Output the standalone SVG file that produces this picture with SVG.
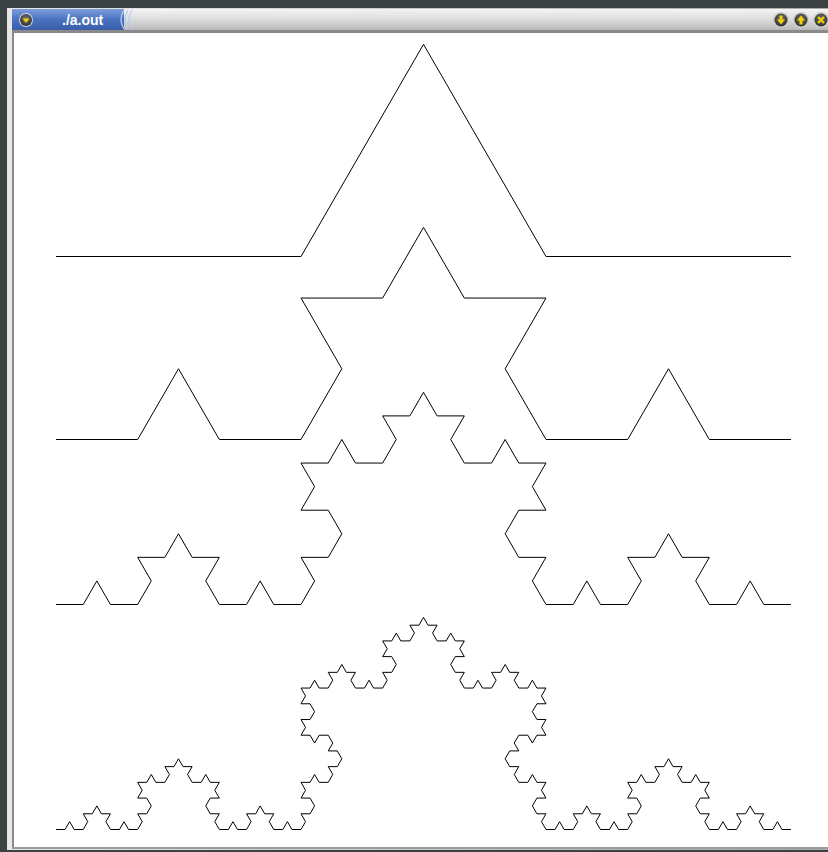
<svg xmlns="http://www.w3.org/2000/svg" width="828" height="852" viewBox="0 0 828 852">
<defs>
<linearGradient id="blue" x1="0" y1="0" x2="0" y2="1">
<stop offset="0" stop-color="#7e9fdc"/>
<stop offset="0.5" stop-color="#4a72c0"/>
<stop offset="1" stop-color="#3a5ea8"/>
</linearGradient>
<linearGradient id="gray" x1="0" y1="0" x2="0" y2="1">
<stop offset="0" stop-color="#f4f4f4"/>
<stop offset="0.5" stop-color="#dcdcdc"/>
<stop offset="1" stop-color="#b8b8b8"/>
</linearGradient>
<linearGradient id="side" x1="0" y1="0" x2="1" y2="0">
<stop offset="0" stop-color="#e8e8e8"/>
<stop offset="1" stop-color="#a8a8a8"/>
</linearGradient>
<radialGradient id="btn" cx="0.5" cy="0.4" r="0.6">
<stop offset="0" stop-color="#777"/>
<stop offset="1" stop-color="#2e2e2a"/>
</radialGradient>
</defs>
<style>
.koch{fill:none;stroke:#000;stroke-width:1;stroke-linejoin:miter}
.title{font-family:"Liberation Sans",Arial,sans-serif;font-weight:bold;font-size:14px;fill:#fff}
.arc{fill:none;stroke:#b8cdf0;stroke-width:1.2}
.sym{fill:#f0d000}
</style>
<g id="frame">
<rect x="0" y="0" width="828" height="852" fill="#3c4242"/>
<rect x="7" y="8" width="821" height="842" fill="url(#side)"/>
<rect x="12" y="30" width="816" height="818" fill="#8a8a8a"/>
<rect x="14" y="33" width="814" height="814" fill="#fff"/>
<rect x="12" y="847" width="816" height="2" fill="#9a9a9a"/>
</g>
<g id="titlebar">
<rect x="12" y="9" width="816" height="21" fill="url(#gray)"/>
<rect x="12" y="9" width="112" height="21" fill="url(#blue)"/>
<path class="arc" d="M124 10 Q118 19.5 124 29"/>
<path class="arc" d="M128 10 Q122 19.5 128 29"/>
<path class="arc" d="M132 10 Q126 19.5 132 29"/>
<circle cx="26" cy="20" r="7" fill="#c8d4ec"/>
<circle cx="26" cy="20" r="6" fill="url(#btn)"/>
<path class="sym" d="M22.5 18.5 L29.5 18.5 L26 23 Z"/>
<text class="title" x="62" y="25">./a.out</text>
</g>
<g id="buttons">
<circle cx="781" cy="20" r="8" fill="#cfcfcf"/>
<circle cx="781" cy="20" r="6.5" fill="url(#btn)"/>
<path class="sym" d="M779.5 15.5 H782.5 V19.5 H785 L781 24.5 L777 19.5 H779.5 Z"/>
<circle cx="801" cy="20" r="8" fill="#cfcfcf"/>
<circle cx="801" cy="20" r="6.5" fill="url(#btn)"/>
<path class="sym" d="M799.5 24.5 H802.5 V20.5 H805 L801 15.5 L797 20.5 H799.5 Z"/>
<circle cx="821" cy="20" r="8" fill="#cfcfcf"/>
<circle cx="821" cy="20" r="6.5" fill="url(#btn)"/>
<path d="M818 17 L824 23 M824 17 L818 23" stroke="#f0d000" stroke-width="2.2" fill="none"/>
</g>
<g id="curves">
<path id="koch1" class="koch" d="M56 256.5 L301 256.5 L423.5 44.3 L546 256.5 L791 256.5"/>
<path id="koch2" class="koch" d="M56 439.5 l81.667 0 40.833 -70.725 40.833 70.725 81.667 0 40.833 -70.725 -40.833 -70.725 81.667 0 40.833 -70.725 40.833 70.725 81.667 0 -40.833 70.725 40.833 70.725 81.667 0 40.833 -70.725 40.833 70.725 81.667 0"/>
<path id="koch3" class="koch" d="M56 604.5 l27.222 0 13.611 -23.575 13.611 23.575 27.222 0 13.611 -23.575 -13.611 -23.575 27.222 0 13.611 -23.575 13.611 23.575 27.222 0 -13.611 23.575 13.611 23.575 27.222 0 13.611 -23.575 13.611 23.575 27.222 0
13.611 -23.575 -13.611 -23.575 27.222 0 13.611 -23.575 -13.611 -23.575 -27.222 0 13.611 -23.575 -13.611 -23.575 27.222 0 13.611 -23.575 13.611 23.575 27.222 0 13.611 -23.575 -13.611 -23.575 27.222 0 13.611 -23.575
13.611 23.575 27.222 0 -13.611 23.575 13.611 23.575 27.222 0 13.611 -23.575 13.611 23.575 27.222 0 -13.611 23.575 13.611 23.575 -27.222 0 -13.611 23.575 13.611 23.575 27.222 0 -13.611 23.575 13.611 23.575
27.222 0 13.611 -23.575 13.611 23.575 27.222 0 13.611 -23.575 -13.611 -23.575 27.222 0 13.611 -23.575 13.611 23.575 27.222 0 -13.611 23.575 13.611 23.575 27.222 0 13.611 -23.575 13.611 23.575 27.222 0"/>
<path id="koch4" class="koch" d="M56 829.5 l9.074 0 4.537 -7.858 4.537 7.858 9.074 0 4.537 -7.858 -4.537 -7.858 9.074 0 4.537 -7.858 4.537 7.858 9.074 0 -4.537 7.858 4.537 7.858 9.074 0 4.537 -7.858 4.537 7.858 9.074 0
4.537 -7.858 -4.537 -7.858 9.074 0 4.537 -7.858 -4.537 -7.858 -9.074 0 4.537 -7.858 -4.537 -7.858 9.074 0 4.537 -7.858 4.537 7.858 9.074 0 4.537 -7.858 -4.537 -7.858 9.074 0 4.537 -7.858
4.537 7.858 9.074 0 -4.537 7.858 4.537 7.858 9.074 0 4.537 -7.858 4.537 7.858 9.074 0 -4.537 7.858 4.537 7.858 -9.074 0 -4.537 7.858 4.537 7.858 9.074 0 -4.537 7.858 4.537 7.858
9.074 0 4.537 -7.858 4.537 7.858 9.074 0 4.537 -7.858 -4.537 -7.858 9.074 0 4.537 -7.858 4.537 7.858 9.074 0 -4.537 7.858 4.537 7.858 9.074 0 4.537 -7.858 4.537 7.858 9.074 0
4.537 -7.858 -4.537 -7.858 9.074 0 4.537 -7.858 -4.537 -7.858 -9.074 0 4.537 -7.858 -4.537 -7.858 9.074 0 4.537 -7.858 4.537 7.858 9.074 0 4.537 -7.858 -4.537 -7.858 9.074 0 4.537 -7.858
-4.537 -7.858 -9.074 0 4.537 -7.858 -4.537 -7.858 -9.074 0 -4.537 7.858 -4.537 -7.858 -9.074 0 4.537 -7.858 -4.537 -7.858 9.074 0 4.537 -7.858 -4.537 -7.858 -9.074 0 4.537 -7.858 -4.537 -7.858
9.074 0 4.537 -7.858 4.537 7.858 9.074 0 4.537 -7.858 -4.537 -7.858 9.074 0 4.537 -7.858 4.537 7.858 9.074 0 -4.537 7.858 4.537 7.858 9.074 0 4.537 -7.858 4.537 7.858 9.074 0
4.537 -7.858 -4.537 -7.858 9.074 0 4.537 -7.858 -4.537 -7.858 -9.074 0 4.537 -7.858 -4.537 -7.858 9.074 0 4.537 -7.858 4.537 7.858 9.074 0 4.537 -7.858 -4.537 -7.858 9.074 0 4.537 -7.858
4.537 7.858 9.074 0 -4.537 7.858 4.537 7.858 9.074 0 4.537 -7.858 4.537 7.858 9.074 0 -4.537 7.858 4.537 7.858 -9.074 0 -4.537 7.858 4.537 7.858 9.074 0 -4.537 7.858 4.537 7.858
9.074 0 4.537 -7.858 4.537 7.858 9.074 0 4.537 -7.858 -4.537 -7.858 9.074 0 4.537 -7.858 4.537 7.858 9.074 0 -4.537 7.858 4.537 7.858 9.074 0 4.537 -7.858 4.537 7.858 9.074 0
-4.537 7.858 4.537 7.858 -9.074 0 -4.537 7.858 4.537 7.858 9.074 0 -4.537 7.858 4.537 7.858 -9.074 0 -4.537 7.858 -4.537 -7.858 -9.074 0 -4.537 7.858 4.537 7.858 -9.074 0 -4.537 7.858
4.537 7.858 9.074 0 -4.537 7.858 4.537 7.858 9.074 0 4.537 -7.858 4.537 7.858 9.074 0 -4.537 7.858 4.537 7.858 -9.074 0 -4.537 7.858 4.537 7.858 9.074 0 -4.537 7.858 4.537 7.858
9.074 0 4.537 -7.858 4.537 7.858 9.074 0 4.537 -7.858 -4.537 -7.858 9.074 0 4.537 -7.858 4.537 7.858 9.074 0 -4.537 7.858 4.537 7.858 9.074 0 4.537 -7.858 4.537 7.858 9.074 0
4.537 -7.858 -4.537 -7.858 9.074 0 4.537 -7.858 -4.537 -7.858 -9.074 0 4.537 -7.858 -4.537 -7.858 9.074 0 4.537 -7.858 4.537 7.858 9.074 0 4.537 -7.858 -4.537 -7.858 9.074 0 4.537 -7.858
4.537 7.858 9.074 0 -4.537 7.858 4.537 7.858 9.074 0 4.537 -7.858 4.537 7.858 9.074 0 -4.537 7.858 4.537 7.858 -9.074 0 -4.537 7.858 4.537 7.858 9.074 0 -4.537 7.858 4.537 7.858
9.074 0 4.537 -7.858 4.537 7.858 9.074 0 4.537 -7.858 -4.537 -7.858 9.074 0 4.537 -7.858 4.537 7.858 9.074 0 -4.537 7.858 4.537 7.858 9.074 0 4.537 -7.858 4.537 7.858 9.074 0"/>
</g>
</svg>
